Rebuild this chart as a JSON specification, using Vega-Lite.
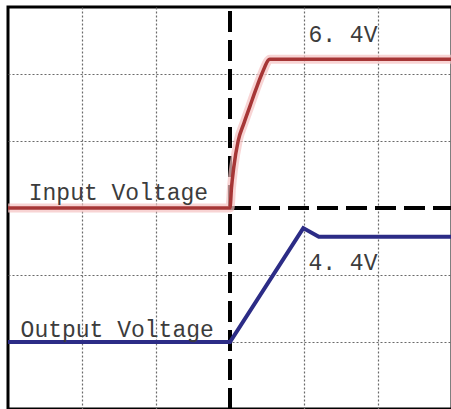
{
  "$schema": "https://vega.github.io/schema/vega-lite/v6.json",
  "width": 444,
  "height": 402,
  "autosize": {"type": "none"},
  "padding": {"left": 8, "top": 7, "right": 0, "bottom": 0},
  "background": "white",
  "config": {"view": {"stroke": "black", "strokeWidth": 3}},
  "datasets": {
    "curves": [
      {"series": "Input", "t": 0, "v": 3},
      {"series": "Input", "t": 3, "v": 3},
      {"series": "Input", "t": 3.02, "v": 3.3},
      {"series": "Input", "t": 3.05, "v": 3.6},
      {"series": "Input", "t": 3.11, "v": 4.0},
      {"series": "Input", "t": 3.19, "v": 4.27},
      {"series": "Input", "t": 3.27, "v": 4.52},
      {"series": "Input", "t": 3.35, "v": 4.77},
      {"series": "Input", "t": 3.43, "v": 5.0},
      {"series": "Input", "t": 3.54, "v": 5.22},
      {"series": "Input", "t": 6, "v": 5.22},
      {"series": "Output", "t": 0, "v": 1},
      {"series": "Output", "t": 3, "v": 1},
      {"series": "Output", "t": 3.99, "v": 2.7},
      {"series": "Output", "t": 4.2, "v": 2.57},
      {"series": "Output", "t": 6, "v": 2.57}
    ],
    "rules": [
      {"t": 3, "t2": 3, "v": 0, "v2": 6},
      {"t": 3, "t2": 6, "v": 3, "v2": 3}
    ],
    "labels": [
      {"text": "Input Voltage", "t": 0.28, "v": 3.12},
      {"text": "Output Voltage", "t": 0.17, "v": 1.07},
      {"text": "6. 4V", "t": 4.06, "v": 5.48},
      {"text": "4. 4V", "t": 4.06, "v": 2.08}
    ]
  },
  "layer": [
    {
      "data": {"name": "rules"},
      "mark": {"type": "rule", "color": "black", "strokeWidth": 4, "strokeDash": [21, 8]},
      "encoding": {
        "x": {"field": "t", "type": "quantitative", "scale": {"domain": [0, 6], "nice": false, "zero": false},
          "axis": {"values": [1, 2, 4, 5], "grid": true, "labels": false, "ticks": false, "domain": false, "title": null, "gridColor": "#6a6a6a", "gridDash": [2, 2], "gridWidth": 1.2}},
        "x2": {"field": "t2"},
        "y": {"field": "v", "type": "quantitative", "scale": {"domain": [0, 6], "nice": false, "zero": false},
          "axis": {"values": [1, 2, 4, 5], "grid": true, "labels": false, "ticks": false, "domain": false, "title": null, "gridColor": "#6a6a6a", "gridDash": [2, 2], "gridWidth": 1.2}},
        "y2": {"field": "v2"}
      }
    },
    {
      "data": {"name": "curves"},
      "transform": [{"filter": "datum.series === 'Input'"}],
      "mark": {"type": "line", "color": "#f5c2c2", "strokeWidth": 9, "opacity": 0.7, "interpolate": "monotone"},
      "encoding": {
        "x": {"field": "t", "type": "quantitative"},
        "y": {"field": "v", "type": "quantitative"},
        "order": {"field": "t"}
      }
    },
    {
      "data": {"name": "curves"},
      "transform": [{"filter": "datum.series === 'Input'"}],
      "mark": {"type": "line", "strokeWidth": 3.5, "color": "#a63636", "interpolate": "monotone"},
      "encoding": {
        "x": {"field": "t", "type": "quantitative"},
        "y": {"field": "v", "type": "quantitative"},
        "order": {"field": "t"}
      }
    },
    {
      "data": {"name": "curves"},
      "transform": [{"filter": "datum.series === 'Output'"}],
      "mark": {"type": "line", "strokeWidth": 4, "color": "#2c2c86"},
      "encoding": {
        "x": {"field": "t", "type": "quantitative"},
        "y": {"field": "v", "type": "quantitative"},
        "order": {"field": "t"}
      }
    },
    {
      "data": {"name": "labels"},
      "mark": {"type": "text", "align": "left", "baseline": "alphabetic", "font": "Liberation Mono", "fontSize": 23, "color": "#3c3c3c"},
      "encoding": {
        "x": {"field": "t", "type": "quantitative"},
        "y": {"field": "v", "type": "quantitative"},
        "text": {"field": "text"}
      }
    }
  ]
}
